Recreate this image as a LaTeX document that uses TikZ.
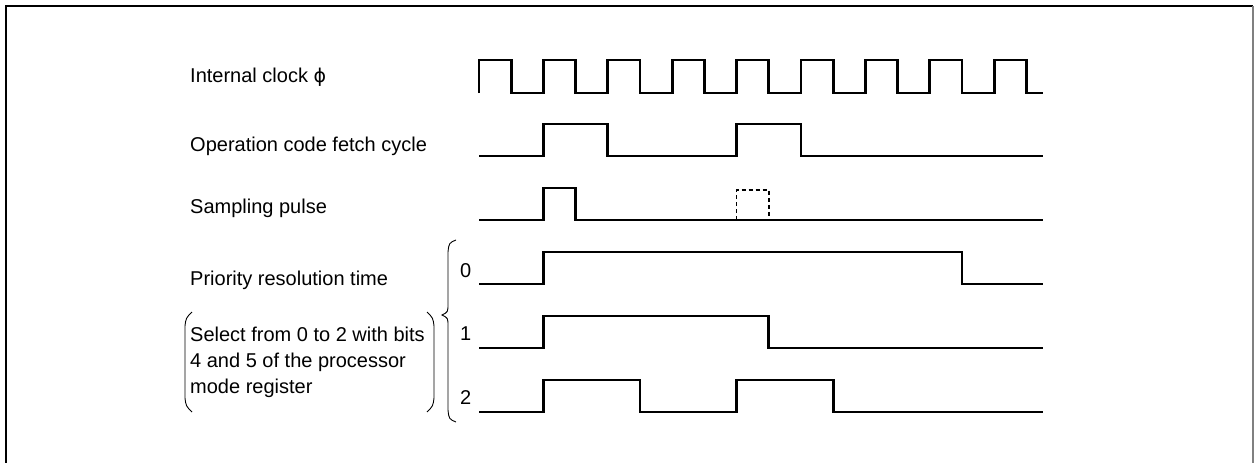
\documentclass[tikz,border=0pt]{standalone}
\usepackage{fontspec}
\setmainfont{Liberation Sans}
\newfontfamily\symfont{DejaVu Sans}
\usepackage{tikz}
\usetikzlibrary{positioning}

\begin{document}
\begin{tikzpicture}[x=1pt, y=-1pt,
    lbl/.style={anchor=base west, inner sep=0pt, font=\fontsize{20}{26}\selectfont},
    sig/.style={line width=2.9pt, line join=miter},
    brk/.style={line width=0.9pt}]
      \useasboundingbox (0,0) rectangle (1254,463);
      % frame
      \draw[line width=2.6pt] (6,463) -- (6,6) -- (1253,6);
      \draw[gray, line width=1.2pt] (1253,6) -- (1253,463);

      % labels
      \node[lbl] (clk) at (190,82) {Internal clock {\symfont\fontsize{19}{26}\selectfont ϕ}};
      \node[lbl] (ofc) at (190,151) {Operation code fetch cycle};
      \node[lbl] (smp) at (190,213) {Sampling pulse};
      \node[lbl] (prt) at (190,285) {Priority resolution time};
      \node[lbl, align=left] (sel) at (190,393) {Select from 0 to 2 with bits\\4 and 5 of the processor\\mode register};
      \node[lbl] (n0) at (460,277) {0};
      \node[lbl] (n1) at (460,340) {1};
      \node[lbl] (n2) at (460,404) {2};

      % brackets round the note, brace round 0 to 2
      \draw[brk] (192,312) .. controls (186,318) .. (185,326) -- (185,398) .. controls (186,406) .. (192,412);
      \draw[brk] (427,312) .. controls (433,318) .. (434,326) -- (434,398) .. controls (433,406) .. (427,412);
      \draw[brk] (456,240) .. controls (449,243) .. (448,252) -- (448,304)
            .. controls (448,312) .. (442,315) .. controls (448,318) .. (448,326)
            -- (448,410) .. controls (449,419) .. (456,422);

      % waveforms, one unit = half a clock period
      \begin{scope}[xshift=479pt, x=32.2pt]
        \draw[sig] (0,93) -- (0,60)
            \foreach \k in {0,...,7} { -- ++(1,0) -- ++(0,33) -- ++(1,0) -- ++(0,-33) }
            -- ++(1,0) -- ++(0,33) -- (17.5,93);
        \draw[sig] (0,156) -- (2,156) -- (2,124) -- (4,124) -- (4,156) -- (8,156)
            -- (8,124) -- (10,124) -- (10,156) -- (17.5,156);
        \draw[sig] (0,220) -- (2,220) -- (2,188) -- (3,188) -- (3,220) -- (17.5,220);
        \draw[line width=1.6pt, dash pattern=on 4pt off 3pt] (8,220) -- (8,190) -- (9,190) -- (9,220);
        \draw[sig] (0,284) -- (2,284) -- (2,252) -- (15,252) -- (15,284) -- (17.5,284);
        \draw[sig] (0,348) -- (2,348) -- (2,316) -- (9,316) -- (9,348) -- (17.5,348);
        \draw[sig] (0,412) -- (2,412) -- (2,380) -- (5,380) -- (5,412) -- (8,412)
            -- (8,380) -- (11,380) -- (11,412) -- (17.5,412);
      \end{scope}
\end{tikzpicture}
\end{document}
